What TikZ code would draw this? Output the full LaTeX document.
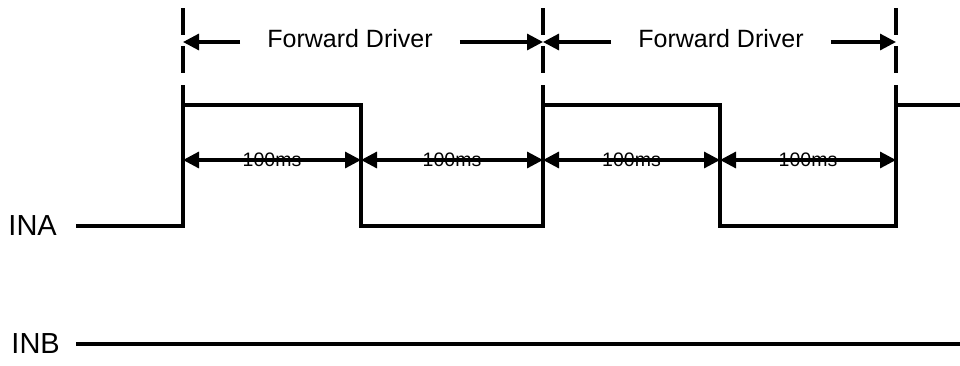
\documentclass[tikz,border=0pt]{standalone}
\usepackage{fontspec}
\setmainfont{Liberation Sans}
\usetikzlibrary{arrows.meta, positioning, calc}

\begin{document}
\begin{tikzpicture}[x=1pt, y=-1pt,
    sig/.style={line width=3.2pt},
    mark line/.style={line width=3.2pt, dash pattern=on 27pt off 11pt},
    tip/.style={line width=3.2pt, -{Triangle[length=16pt,width=16pt]}},
    both tip/.style={line width=3.2pt, {Triangle[length=16pt,width=16pt]}-{Triangle[length=16pt,width=16pt]}},
    gap/.style={inner xsep=27pt, inner ysep=0pt, font=\fontsize{25}{30}\selectfont},
    ms/.style={inner sep=0pt, font=\fontsize{19.5}{23}\selectfont},
    lbl/.style={inner sep=0pt, font=\fontsize{29}{34}\selectfont}]
    \useasboundingbox (0,0) rectangle (960,365);
    % INA waveform
    \coordinate (A0) at (76,226);
    \coordinate (A1) at (183,226);
    \coordinate (A2) at (183,105);
    \coordinate (A3) at (361,105);
    \coordinate (A4) at (361,226);
    \coordinate (A5) at (543,226);
    \coordinate (A6) at (543,105);
    \coordinate (A7) at (720,105);
    \coordinate (A8) at (720,226);
    \coordinate (A9) at (896,226);
    \coordinate (A10) at (896,105);
    \coordinate (A11) at (960,105);
    \draw[sig] (A0)--(A1)--(A2)--(A3)--(A4)--(A5)--(A6)--(A7)--(A8)--(A9)--(A10)--(A11);
    % INB waveform
    \coordinate (B0) at (76,344);
    \coordinate (B1) at (960,344);
    \draw[sig] (B0)--(B1);
    \node[lbl, left=19pt of A0] (ina) {INA};
    \node[lbl, left=16pt of B0] (inb) {INB};
    % period marks
    \foreach \x/\n in {183/1, 543/2, 896/3} {
        \coordinate (m\n) at (\x,42);
        \draw[mark line] (\x,8) -- (\x,73);
        \draw[sig] (\x,85) -- (\x,105);
    }
    \node[gap] (fd1) at (350,39) {Forward Driver};
    \node[gap] (fd2) at (721,39) {Forward Driver};
    \draw[tip] (fd1.west |- m1) -- (m1);
    \draw[tip] (fd1.east |- m1) -- (m2);
    \draw[tip] (fd2.west |- m2) -- (m2);
    \draw[tip] (fd2.east |- m2) -- (m3);
    % 100ms spans
    \foreach \x/\n in {183/1, 361/2, 543/3, 720/4, 896/5}
        \coordinate (t\n) at (\x,160);
    \foreach \a/\b in {1/2, 2/3, 3/4, 4/5}
        \draw[both tip] (t\a) -- node[ms] (ms\a) {100ms} (t\b);
\end{tikzpicture}
\end{document}
